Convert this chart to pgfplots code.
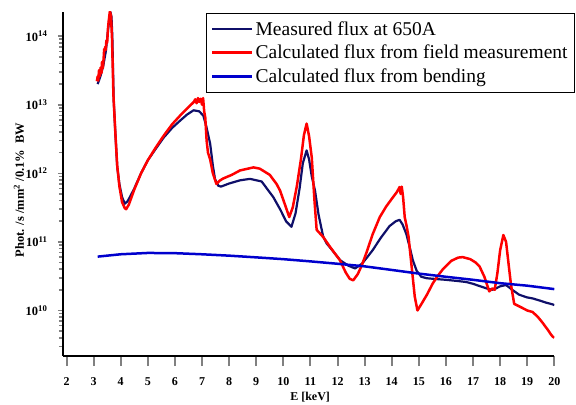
\documentclass[border=0pt]{standalone}
\usepackage{fontspec}
\setmainfont{Liberation Serif}
\usepackage{pgfplots}
\pgfplotsset{compat=1.18}
\definecolor{navyc}{RGB}{15,15,105}
\definecolor{redc}{RGB}{255,0,0}
\definecolor{bluec}{RGB}{0,0,205}
\begin{document}
\begin{tikzpicture}
% x axis with long ticks
\begin{axis}[
  scale only axis, width=491.3bp, height=344bp,
  xmin=1.87, xmax=20, ymin=0, ymax=1,
  axis x line*=bottom, axis y line=none,
  axis line style={-, line width=2.4bp},
  tick align=outside, major tick length=10bp,
  xtick={2,3,4,5,6,7,8,9,10,11,12,13,14,15,16,17,18,19,20},
  xticklabels={2,3,4,5,6,7,8,9,10,11,12,13,14,15,16,17,18,19,20},
  minor x tick num=0,
  xtick style={line width=2bp},
  xticklabel style={font=\fontsize{12bp}{14bp}\selectfont\bfseries, yshift=-8bp},
  xlabel={E [keV]},
  xlabel style={font=\fontsize{12bp}{14bp}\selectfont\bfseries, at={(axis description cs:0.503,0)}, anchor=center, yshift=-41bp},
]
\end{axis}
\begin{axis}[
  scale only axis, width=491.3bp, height=344bp,
  xmin=1.87, xmax=20,
  ymode=log, log basis y=10, ymin=2.17e9, ymax=2.25e14,
  axis x line*=bottom, axis y line*=left,
  axis line style={-, line width=2.4bp},
  tick align=outside, major tick length=5bp, minor tick length=4bp,
  xtick=\empty,
  ytick style={line width=1.6bp},
  yticklabel style={font=\fontsize{12.5bp}{14bp}\selectfont\bfseries, xshift=-7bp},
  yticklabel={10\textsuperscript{\pgfmathparse{int(round(\tick))}\pgfmathresult}},
  ylabel={Phot. /s /mm\textsuperscript{2} /0.1\%~~BW},
  ylabel style={font=\fontsize{12.5bp}{14bp}\selectfont\bfseries, at={(axis description cs:0,0.5)}, anchor=center, yshift=44bp, xshift=-6bp},
  legend style={at={(1.042,0.997)}, anchor=north east, draw=black, line width=0.8bp, fill=white,
    font=\fontsize{19.5bp}{22bp}\selectfont, inner xsep=5bp, inner ysep=6bp, row sep=4.5bp, cells={anchor=west}},
  legend image code/.code={\draw[#1] (0bp,0bp) -- (37bp,0bp); \path (0bp,0bp) -- (40bp,0bp);},
  every axis plot/.append style={line join=round},
]
\addplot[navyc, line width=2.2bp] coordinates {
(3.15,2.0e13) (3.25,2.6e13) (3.35,3.6e13) (3.45,6.0e13) (3.52,1.1e14) (3.58,1.8e14) (3.62,2.25e14)
(3.66,1.9e14) (3.69,1.0e14) (3.74,1.2e13) (3.80,4e12) (3.87,1.25e12) (3.95,7e11) (4.05,4.5e11)
(4.15,3.6e11) (4.25,3.9e11) (4.35,4.6e11) (4.5,6.0e11) (4.75,1.0e12) (5.0,1.55e12) (5.3,2.3e12)
(5.58,3.3e12) (5.9,4.6e12) (6.2,5.9e12) (6.45,7.2e12) (6.69,8.3e12) (6.9,8.0e12) (7.05,6.9e12)
(7.15,5e12) (7.3,2.7e12) (7.4,1.3e12) (7.48,8.2e11) (7.6,6.6e11) (7.7,6.4e11) (8.0,7.1e11)
(8.4,7.9e11) (8.77,8.3e11) (9.2,7.6e11) (9.63,4.5e11) (9.9,2.9e11) (10.1,2.0e11) (10.3,1.66e11)
(10.45,2.6e11) (10.6,6e11) (10.72,1.4e12) (10.86,2.16e12) (10.95,1.6e12) (11.05,9e11) (11.17,5.6e11)
(11.3,2.5e11) (11.47,1.2e11) (11.6,9.5e10) (11.85,7.2e10) (12.1,5.4e10) (12.4,4.5e10) (12.65,4.1e10)
(12.9,4.8e10) (13.1,6e10) (13.3,7.6e10) (13.6,1.15e11) (13.92,1.7e11) (14.15,2.0e11) (14.29,2.1e11)
(14.4,1.8e11) (14.54,1.3e11) (14.66,8.5e10) (14.78,5.4e10) (14.92,3.8e10) (15.09,3.1e10) (15.3,2.95e10)
(15.52,2.9e10) (16.0,2.8e10) (16.4,2.7e10) (16.75,2.6e10) (17.0,2.45e10) (17.2,2.3e10) (17.5,2.1e10)
(17.7,2.0e10) (17.85,2.1e10) (18.0,2.25e10) (18.22,2.35e10) (18.45,2.0e10) (18.7,1.7e10)
(19.0,1.55e10) (19.2,1.5e10) (19.45,1.4e10) (19.7,1.3e10) (19.93,1.23e10) (20.0,1.2e10)
};
\addlegendentry{Measured flux at 650A}
\addplot[redc, line width=2.5bp] coordinates {
(3.12,2.2e13) (3.15,2.6e13) (3.17,2.25e13) (3.2,3.2e13) (3.23,2.6e13) (3.26,3.5e13) (3.29,2.9e13)
(3.31,4.2e13) (3.34,3.4e13) (3.37,4.8e13) (3.39,6.5e13) (3.41,6.2e13) (3.43,7e13) (3.45,6.3e13)
(3.47,8.6e13) (3.5,8.0e13) (3.53,1.3e14) (3.56,1.7e14) (3.6,2.3e14) (3.64,2.0e14) (3.68,9e13)
(3.73,1.4e13) (3.8,4e12) (3.87,1.3e12) (3.95,6.5e11) (4.05,3.8e11) (4.15,3.1e11) (4.2,3.0e11)
(4.3,3.5e11) (4.5,5.8e11) (4.75,1.0e12) (5.0,1.55e12) (5.3,2.4e12) (5.6,3.6e12) (5.9,5.2e12)
(6.2,7.0e12) (6.5,9.2e12) (6.7,1.1e13) (6.75,1.2e13) (6.8,1.05e13) (6.85,1.25e13) (6.9,1.1e13)
(6.95,1.22e13) (7.0,1.0e13) (7.04,1.25e13) (7.08,8e12) (7.12,6.5e12) (7.17,3e12) (7.22,2.0e12)
(7.3,1.6e12) (7.4,1.0e12) (7.53,7e11) (7.65,7.8e11) (7.78,8.4e11) (8.1,9.5e11) (8.4,1.1e12)
(8.9,1.22e12) (9.13,1.17e12) (9.5,9.5e11) (9.75,7e11) (9.88,5.6e11) (10.05,3.6e11) (10.22,2.3e11)
(10.35,3.2e11) (10.5,6.5e11) (10.65,1.6e12) (10.76,3.6e12) (10.86,5.3e12) (10.95,3.5e12) (11.05,1.7e12)
(11.15,4e11) (11.23,1.5e11) (11.47,1.18e11) (11.72,8.5e10) (11.9,6.8e10) (12.09,5.4e10) (12.3,3.6e10)
(12.45,2.9e10) (12.58,2.75e10) (12.75,3.4e10) (12.9,4.6e10) (13.07,7e10) (13.3,1.3e11) (13.56,2.3e11)
(13.8,3.3e11) (14.05,4.5e11) (14.2,5.4e11) (14.29,6.3e11) (14.33,5.0e11) (14.37,6.4e11) (14.42,4.5e11)
(14.48,2.3e11) (14.55,1.7e11) (14.62,1.2e11) (14.72,5e10) (14.85,1.6e10) (14.95,1.0e10) (15.1,1.25e10)
(15.3,1.7e10) (15.52,2.5e10) (15.7,3.2e10) (15.89,4.0e10) (16.2,5.3e10) (16.45,5.9e10) (16.62,6.0e10)
(16.9,5.6e10) (17.1,5.0e10) (17.24,4.4e10) (17.42,3.1e10) (17.6,1.9e10) (17.72,2.1e10) (17.8,2.0e10)
(17.9,3.5e10) (18.0,7.5e10) (18.12,1.26e11) (18.22,1.0e11) (18.32,4.5e10) (18.4,2.4e10) (18.52,1.25e10)
(18.8,1.1e10) (19.0,1.0e10) (19.2,9.5e9) (19.4,8e9) (19.57,6.6e9) (19.75,5.3e9) (19.87,4.5e9)
(19.93,4.2e9) (20.0,4.0e9)
};
\addlegendentry{Calculated flux from field measurement}
\addplot[bluec, line width=2.5bp] coordinates {
(3.15,6.1e10) (4,6.6e10) (5,6.9e10) (6,6.85e10) (7,6.6e10) (8,6.3e10) (9,5.95e10) (10,5.6e10)
(11,5.2e10) (12,4.8e10) (13,4.4e10) (14,3.9e10) (15,3.45e10) (16,3.1e10) (17,2.8e10) (18,2.5e10)
(19,2.3e10) (20,2.05e10)
};
\addlegendentry{Calculated flux from bending}
\end{axis}
\pgfresetboundingbox
\path[use as bounding box] (-63bp,-49bp) rectangle (513bp,356bp);
\end{tikzpicture}
\end{document}
